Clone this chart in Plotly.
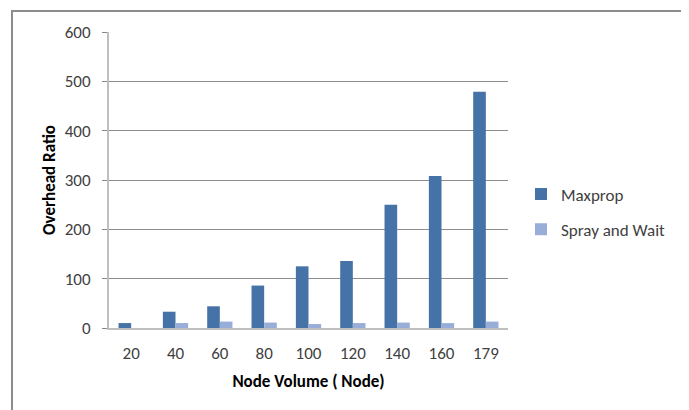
import plotly.graph_objects as go

categories = ["20", "40", "60", "80", "100", "120", "140", "160", "179"]
maxprop = [10, 33, 44, 86, 125, 136, 250, 308, 479]
spray_wait = [0, 10, 13, 11, 8, 10, 11, 10, 13]
y_ticks = [0, 100, 200, 300, 400, 500, 600]

FONT = "Carlito, 'Liberation Sans', sans-serif"

fig = go.Figure()
fig.add_trace(go.Bar(x=categories, y=maxprop, name="Maxprop",
                     marker=dict(color="#4572a7", line=dict(width=0)), legendgroup="a"))
fig.add_trace(go.Bar(x=categories, y=spray_wait, name="Spray and Wait",
                     marker=dict(color="#98add8", line=dict(width=0)), legendgroup="b"))

OFF = 8  # page body margin
W, H = 689, 410
L, T = 109 - OFF, 32 - OFF
pw, ph = 399, 296
R, B = W - L - pw, H - T - ph


def px(x):
    return (x - OFF - L) / pw


def py(y):
    return (T + ph - (y - OFF)) / ph


fig.update_layout(
    width=W, height=H,
    margin=dict(l=L, r=R, t=T, b=B, autoexpand=False),
    paper_bgcolor="white", plot_bgcolor="white",
    font=dict(family=FONT, size=17, color="#404040"),
    barmode="group", bargap=0.43, bargroupgap=0,
    showlegend=True,
    legend=dict(x=px(521), y=py(212), xanchor="left", yanchor="middle",
                font=dict(size=17, color="#404040"), tracegroupgap=10,
                itemwidth=30, bgcolor="rgba(0,0,0,0)"),
    xaxis=dict(
        title=dict(text="<b>Node Volume ( Node)</b>", font=dict(size=17, color="#000000"), standoff=12),
        showline=True, linecolor="#bfbfbf", linewidth=1.5,
        ticks="", showgrid=False, tickfont=dict(size=17), automargin=False,
        ticklabelstandoff=9,
    ),
    yaxis=dict(
        title=dict(text="<b>Overhead Ratio</b>", font=dict(size=17, color="#000000"), standoff=5),
        range=[0, 600], tickvals=y_ticks,
        showline=True, linecolor="#bfbfbf", linewidth=2,
        ticks="outside", ticklen=5, tickcolor="#888888",
        ticklabelstandoff=8,
        showgrid=True, gridcolor="#8c8c8c", gridwidth=1,
        zeroline=False, tickfont=dict(size=17), automargin=False,
    ),
)

fig.add_shape(type="path", xref="paper", yref="paper",
              path=f"M {px(12)} {py(430)} L {px(12)} {py(11)} L {px(684)} {py(11)} L {px(684)} {py(430)}",
              line=dict(color="#8c8c8c", width=2))

fig.write_html("out.html")
